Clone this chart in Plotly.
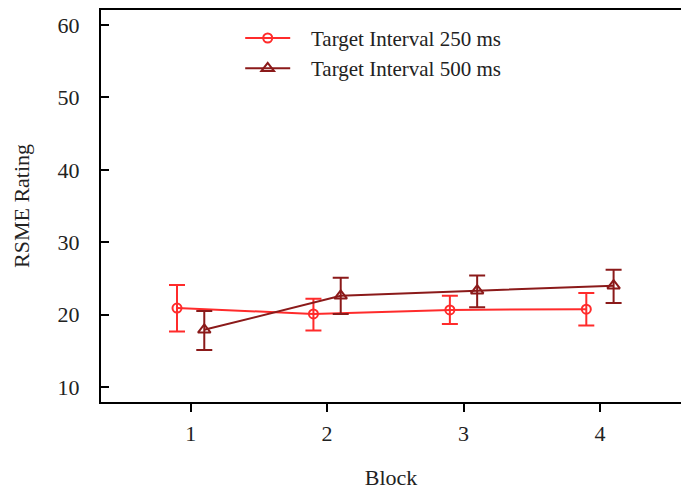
import plotly.graph_objects as go

# Mean RSME rating per block, with upper/lower error extents
blocks = [1, 2, 3, 4]
offset = 0.1

rating_250 = [20.9, 20.1, 20.65, 20.75]
err_up_250 = [3.2, 2.1, 1.95, 2.25]
err_dn_250 = [3.25, 2.3, 1.95, 2.25]

rating_500 = [17.9, 22.6, 23.3, 24.0]
err_up_500 = [2.6, 2.5, 2.1, 2.2]
err_dn_500 = [2.8, 2.5, 2.3, 2.4]

names = ["Target Interval 250 ms", "Target Interval 500 ms"]
red = "#FF2B2B"
dark_red = "#8B1A1A"
font_family = "Liberation Serif, DejaVu Serif, serif"
gap = "\u00a0\u00a0\u00a0"

fig = go.Figure()
fig.add_trace(go.Scatter(
    x=[b - offset for b in blocks], y=rating_250, name=gap + names[0],
    mode="lines+markers",
    line=dict(color=red, width=2),
    marker=dict(symbol="circle-open", size=9, color=red, line=dict(width=2)),
    error_y=dict(type="data", symmetric=False, array=err_up_250,
                 arrayminus=err_dn_250, color=red, thickness=2, width=8),
))
fig.add_trace(go.Scatter(
    x=[b + offset for b in blocks], y=rating_500, name=gap + names[1],
    mode="lines+markers",
    line=dict(color=dark_red, width=2),
    marker=dict(symbol="triangle-up-open", size=11, color=dark_red, line=dict(width=2)),
    error_y=dict(type="data", symmetric=False, array=err_up_500,
                 arrayminus=err_dn_500, color=dark_red, thickness=2, width=8),
))

fig.update_layout(
    width=681, height=493,
    margin=dict(l=101, r=0, t=10, b=91),
    paper_bgcolor="white", plot_bgcolor="white",
    font=dict(family=font_family, size=22, color="#222"),
    showlegend=True,
    legend=dict(x=0.24, y=0.98, xanchor="left", yanchor="top",
                bgcolor="rgba(0,0,0,0)", font=dict(size=21),
                tracegroupgap=0, itemwidth=45),
)
fig.update_xaxes(
    range=[0.343, 4.594], tickvals=blocks, ticktext=[str(b) for b in blocks],
    showline=True, linecolor="black", linewidth=2, mirror=True,
    ticks="outside", ticklen=8, tickwidth=2, tickcolor="black",
    ticklabelstandoff=3,
    showgrid=False, zeroline=False,
    title=dict(text="Block", standoff=24, font=dict(size=22)),
)
fig.update_yaxes(
    range=[7.93, 62.07], tickvals=[10, 20, 30, 40, 50, 60],
    showline=True, linecolor="black", linewidth=2,
    ticks="inside", ticklen=8, tickwidth=2, tickcolor="black",
    ticklabelstandoff=15,
    showgrid=False, zeroline=False,
    title=dict(text="RSME Rating", standoff=22, font=dict(size=22)),
)

fig.write_html("out.html")
